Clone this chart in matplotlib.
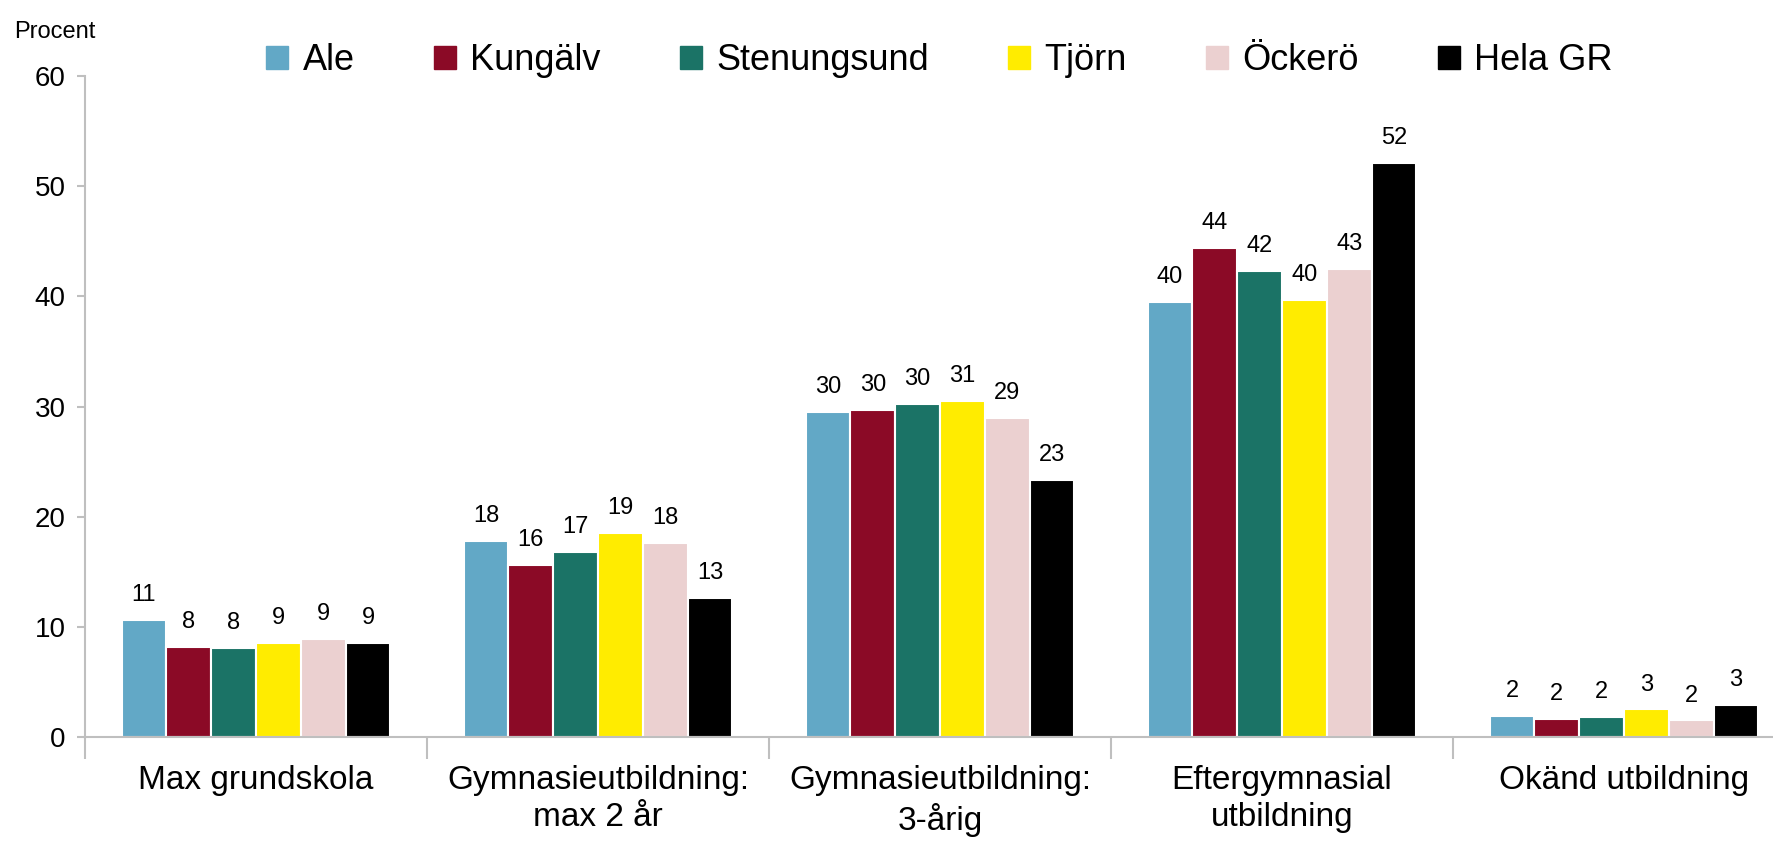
import numpy as np
import matplotlib
matplotlib.use('Agg')
import matplotlib.pyplot as plt
from matplotlib.patches import Patch

plt.rcParams['font.family'] = ['Liberation Sans', 'DejaVu Sans']

kategorier = ['Max grundskola', 'Gymnasieutbildning:\nmax 2 år', 'Gymnasieutbildning:\n3-årig',
              'Eftergymnasial\nutbildning', 'Okänd utbildning']
kommuner = ['Ale', 'Kungälv', 'Stenungsund', 'Tjörn', 'Öckerö', 'Hela GR']
farger = ['#62a8c6', '#8b0a26', '#1b7366', '#ffec00', '#ebd0d0', '#000000']

ale = [10.6, 17.8, 29.5, 39.5, 1.9]
kungalv = [8.2, 15.6, 29.7, 44.4, 1.6]
stenungsund = [8.1, 16.8, 30.2, 42.3, 1.8]
tjorn = [8.5, 18.5, 30.5, 39.7, 2.5]
ockero = [8.9, 17.6, 29.0, 42.5, 1.5]
hela_gr = [8.5, 12.6, 23.3, 52.1, 2.9]
serier = [ale, kungalv, stenungsund, tjorn, ockero, hela_gr]

fig = plt.figure(figsize=(17.73, 8.42), dpi=100)
ax = fig.add_axes([85 / 1773, 0.1247, 1710 / 1773, 0.785])

x = np.arange(len(kategorier))
w = 0.131
for i, (namn, vals) in enumerate(zip(kommuner, serier)):
    pos = x + (i - 2.5) * w
    ax.bar(pos, vals, width=w, color=farger[i], edgecolor='white', linewidth=1.5, label=namn)
    for p, v in zip(pos, vals):
        # avrunda uppåt vid .5 som i Excel
        ax.annotate(str(int(v + 0.5)), (p, v), xytext=(0, 10), textcoords='offset points',
                    ha='center', va='bottom', fontsize=17)

ax.set_xlim(-0.5, 4.5)
ax.set_ylim(0, 60)
ax.set_yticks(range(0, 61, 10))
ax.tick_params(axis='y', labelsize=20, color='#bfbfbf', length=6, width=1.5, pad=8)

ax.set_xticks(np.arange(-0.5, 5, 1))
ax.set_xticklabels([])
ax.tick_params(axis='x', which='major', color='#bfbfbf', length=16, width=1.5)
ax.set_xticks(x, minor=True)
ax.set_xticklabels(kategorier, minor=True, fontsize=24, linespacing=1.25)
ax.tick_params(axis='x', which='minor', length=0, pad=20)

for s in ['top', 'right']:
    ax.spines[s].set_visible(False)
for s in ['left', 'bottom']:
    ax.spines[s].set_color('#bfbfbf')
    ax.spines[s].set_linewidth(1.5)

fig.text(0.008, 0.975, 'Procent', fontsize=17, va='top')

handles = [Patch(color=c, label=k) for c, k in zip(farger, kommuner)]
fig.legend(handles=handles, loc='center', bbox_to_anchor=(0.53, 0.928), ncol=6, frameon=False,
           fontsize=26, handlelength=0.6, handleheight=0.6, handletextpad=0.4, columnspacing=2.2)

fig.savefig('out.png', dpi=100)
